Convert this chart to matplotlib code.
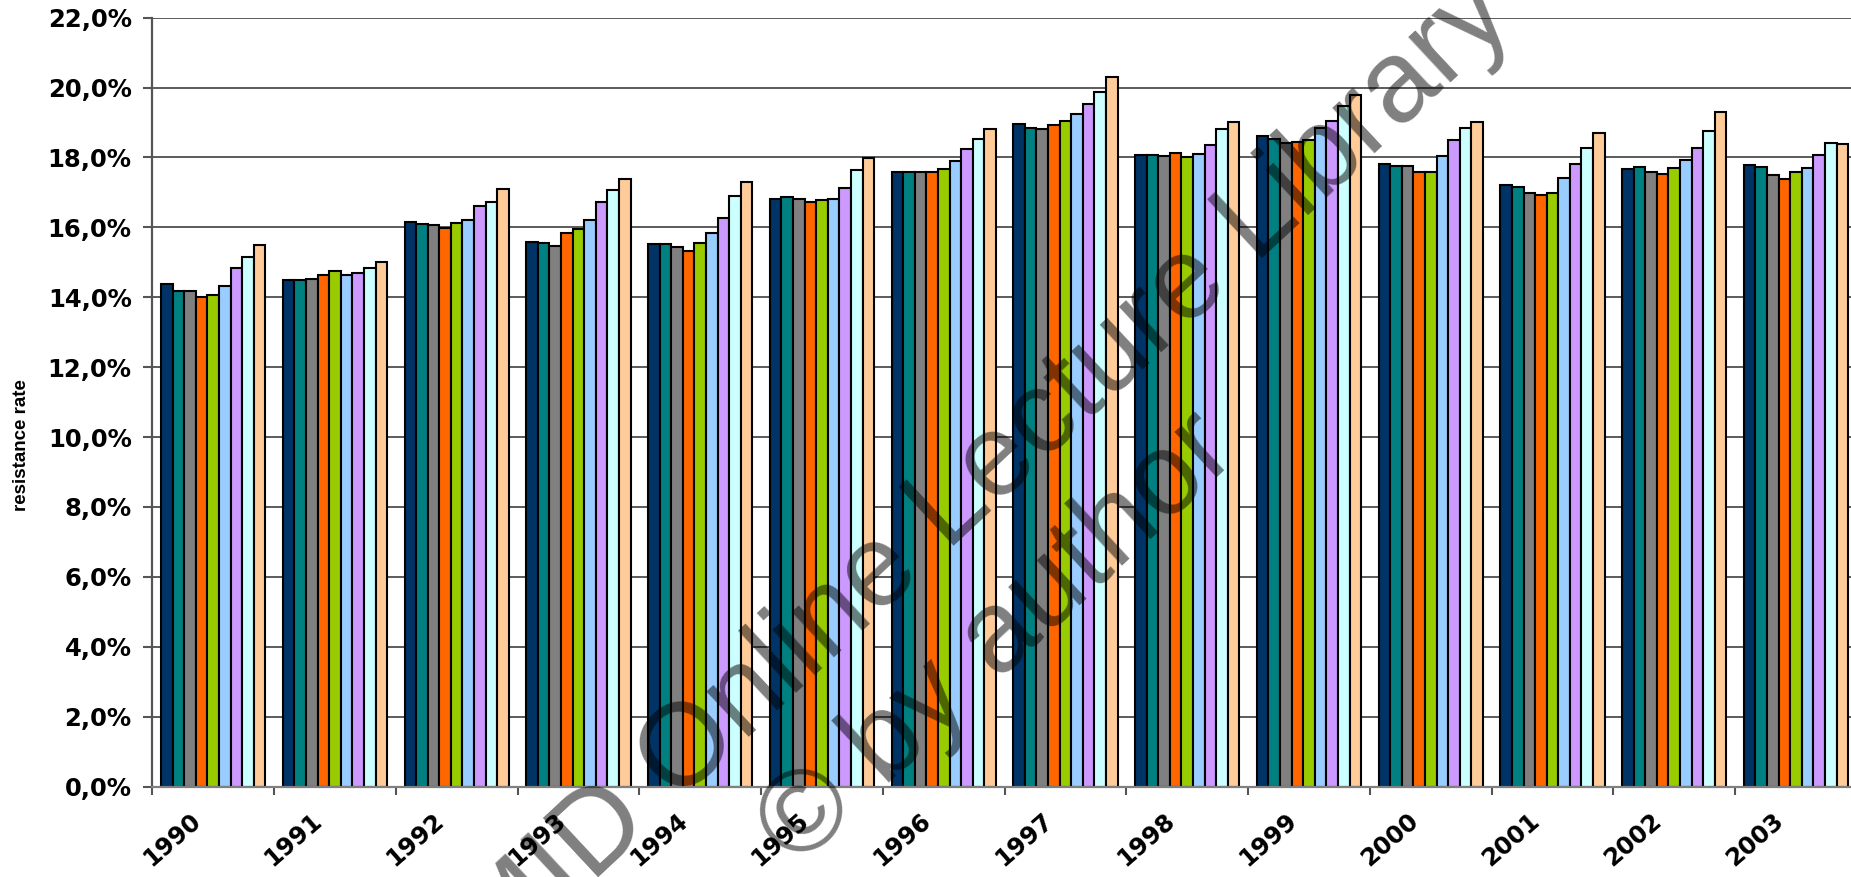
import matplotlib
matplotlib.use("Agg")
import matplotlib.pyplot as plt
import matplotlib.transforms as mtransforms
from matplotlib.font_manager import FontProperties
import numpy as np

years = ["1990", "1991", "1992", "1993", "1994", "1995", "1996",
         "1997", "1998", "1999", "2000", "2001", "2002", "2003"]

# resistance rate (%) per year, one list per series
series_1 = [14.38, 14.49, 16.14, 15.59, 15.51, 16.82, 17.59, 18.96, 18.07, 18.60, 17.82, 17.21, 17.66, 17.79]
series_2 = [14.19, 14.49, 16.10, 15.55, 15.51, 16.88, 17.58, 18.85, 18.06, 18.53, 17.75, 17.16, 17.72, 17.73]
series_3 = [14.18, 14.51, 16.08, 15.48, 15.44, 16.81, 17.57, 18.81, 18.04, 18.40, 17.75, 16.98, 17.58, 17.49]
series_4 = [14.01, 14.65, 15.97, 15.85, 15.32, 16.72, 17.59, 18.94, 18.13, 18.45, 17.57, 16.92, 17.52, 17.39]
series_5 = [14.05, 14.76, 16.13, 15.95, 15.54, 16.78, 17.68, 19.05, 18.00, 18.51, 17.59, 16.99, 17.69, 17.57]
series_6 = [14.33, 14.63, 16.22, 16.22, 15.85, 16.82, 17.89, 19.25, 18.10, 18.83, 18.03, 17.40, 17.93, 17.70]
series_7 = [14.83, 14.69, 16.61, 16.72, 16.28, 17.12, 18.25, 19.52, 18.36, 19.03, 18.50, 17.82, 18.27, 18.08]
series_8 = [15.16, 14.83, 16.73, 17.07, 16.91, 17.63, 18.54, 19.88, 18.80, 19.47, 18.85, 18.27, 18.77, 18.41]
series_9 = [15.49, 15.00, 17.10, 17.39, 17.30, 17.99, 18.80, 20.30, 19.00, 19.80, 19.00, 18.70, 19.29, 18.39]

y_ticks = [0, 2, 4, 6, 8, 10, 12, 14, 16, 18, 20, 22]

all_series = [series_1, series_2, series_3, series_4, series_5,
              series_6, series_7, series_8, series_9]
colors = ["#003366", "#008080", "#808080", "#FF6600", "#99CC00",
          "#99CCFF", "#CC99FF", "#CCFFFF", "#FFCC99"]

W, H, DPI = 1851, 877, 100
fig = plt.figure(figsize=(W / DPI, H / DPI), dpi=DPI)
fig.patch.set_facecolor("white")

ax = fig.add_axes([0.08228, 0.1031, 0.9209, 0.8768])
ax.set_xlim(0, len(years))
ax.set_ylim(0, 22)

n = len(all_series)
bar_w = 1.0 / (n + 1.5)
x = np.arange(len(years)) + 0.5
for j, (vals, col) in enumerate(zip(all_series, colors)):
    ax.bar(x + (j - (n - 1) / 2) * bar_w, vals, width=bar_w, color=col,
           edgecolor="black", linewidth=1.5, zorder=3)

# grid and axes
ax.set_yticks(y_ticks)
ax.set_yticklabels([f"{v:.1f}%".replace(".", ",") for v in y_ticks])
ax.yaxis.grid(True, color="#404040", linewidth=1.2, zorder=0)
ax.set_axisbelow(True)

for side in ("top", "right"):
    ax.spines[side].set_visible(False)
ax.spines["left"].set_color("#555555")
ax.spines["left"].set_linewidth(1.6)
ax.spines["bottom"].set_color("#808080")
ax.spines["bottom"].set_linewidth(1.6)
ax.spines["bottom"].set_zorder(4)

ax.set_xticks(x)
ax.set_xticks(np.arange(len(years) + 1), minor=True)
ax.tick_params(axis="x", which="major", length=0, pad=16)
ax.tick_params(axis="x", which="minor", length=6, width=1.5, color="#555555")
ax.tick_params(axis="y", length=6.8, width=1.5, color="#555555", pad=8)

tick_font = dict(family="DejaVu Sans", weight="bold", size=17.5)
ax.set_xticklabels(years, rotation=41, ha="right", va="top", **tick_font)
for lbl in ax.get_yticklabels():
    lbl.set_fontproperties(FontProperties(**tick_font))

shift = mtransforms.ScaledTranslation(-8 / DPI, 0, fig.dpi_scale_trans)
for lbl in ax.get_xticklabels():
    lbl.set_transform(lbl.get_transform() + shift)

fig.text(21 / W, 1 - 445 / H, "resistance rate", rotation=90,
         ha="center", va="center", family="Liberation Sans",
         weight="bold", fontsize=13.5)

# watermark
wm = dict(rotation=43, rotation_mode="anchor", ha="center", va="center",
          family="Liberation Sans", fontsize=84, color="black", alpha=0.5,
          zorder=10)
fig.text(898 / W, 1 - 556 / H, "ESCMID Online Lecture Library", **wm)
fig.text(998 / W, 1 - 640 / H, "\u00a9 by author", **wm)

fig.savefig("out.png", dpi=DPI)
